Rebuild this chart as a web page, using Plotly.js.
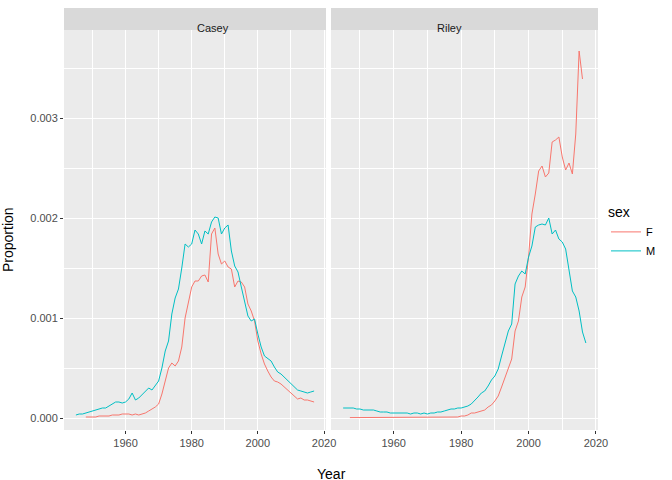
<!DOCTYPE html>
<html>
<head>
<script src="https://cdn.plot.ly/plotly-3.0.1.min.js"></script>
<style>body{margin:0}#plot{width:672px;height:480px}</style>
</head>
<body>
<div id="plot"></div>
<script>
// proportions, one value per year
var caseyMStart = 1945;
var caseyM = [.00003,.00004,.00004,.00005,.00006,.00007,.00008,.00009,.0001,.0001,.00012,.00014,.00016,.00016,.00015,
  .00016,.00019,.00025,.00018,.0002,.00023,.00026,.0003,.00028,.00032,.00037,.0005,.00067,.00077,.00104,.0012,.00129,
  .0015,.00174,.00171,.00174,.00188,.00184,.00174,.00187,.00184,.00196,.00201,.002,.00184,.0019,.00193,.00167,.00152,
  .00146,.00131,.00117,.00102,.00097,.00099,.00084,.00071,.00062,.00059,.00057,.00051,.00046,.00044,.00041,.00037,
  .00034,.00031,.00028,.00027,.00026,.00025,.00026,.00027];
var caseyFStart = 1948;
var caseyF = [.00001,.00001,.00001,.00001,.00002,.00002,.00002,.00002,.00003,.00003,.00003,.00004,.00004,.00004,.00003,
  .00004,.00003,.00004,.00005,.00007,.00009,.00011,.00014,.00024,.00037,.0005,.00055,.00052,.00057,.00071,.001,.00114,
  .00131,.00137,.00137,.00142,.00143,.00136,.00184,.0019,.00164,.00154,.00157,.00151,.00149,.00131,.00137,.00136,.00131,
  .00114,.00107,.00097,.00077,.00064,.00054,.00047,.00041,.00037,.00036,.00034,.00031,.00027,.00025,.00022,.00019,
  .0002,.00018,.00018,.00017,.00016];
var rileyMStart = 1945;
var rileyM = [.0001,.0001,.0001,.0001,.00009,.00009,.00008,.00008,.00008,.00008,.00007,.00006,.00006,.00006,.00005,
  .00005,.00005,.00005,.00005,.00005,.00004,.00005,.00005,.00004,.00005,.00004,.00005,.00005,.00006,.00006,.00007,
  .00008,.00009,.00009,.0001,.0001,.00011,.00012,.00014,.00017,.00021,.00025,.00027,.00032,.00038,.00042,.00049,.00062,
  .00076,.00087,.00094,.00134,.00142,.00147,.00144,.00161,.00172,.00191,.00193,.00194,.00193,.002,.00184,.00188,.00179,
  .00176,.00169,.00147,.00127,.00121,.00107,.00086,.00075];
var rileyFStart = 1947;
var rileyF = [.000004,.000004,.000004,.000004,.00001,.00001,.00001,.00001,.00001,.00001,.00001,.00001,.00001,.00001,
  .00001,.00001,.00001,.00001,.00001,.00001,.00001,.00001,.00001,.00001,.00001,.00001,.00001,.00001,.00001,.00001,
  .00001,.00001,.00001,.00002,.00002,.00003,.00005,.00005,.00006,.00007,.00008,.00011,.00013,.00017,.00022,.00031,
  .00041,.00051,.00059,.00087,.00097,.00121,.00131,.00161,.00204,.00224,.00247,.00252,.00241,.00245,.00276,.00278,
  .00281,.00261,.00248,.00255,.00244,.00284,.00367,.00339];

var colF = '#F8766D', colM = '#00BFC4';

function years(start, vals) {
  var out = [];
  for (var i = 0; i < vals.length; i++) out.push(start + i);
  return out;
}

function line(start, vals, col, name, xa, show) {
  return {x: years(start, vals), y: vals, type: 'scatter', mode: 'lines', name: name,
    xaxis: xa, yaxis: 'y', line: {color: col, width: 1}, showlegend: show, legendgroup: name};
}

var data = [
  line(caseyFStart, caseyF, colF, 'F', 'x', true),
  line(caseyMStart, caseyM, colM, 'M', 'x', true),
  line(rileyFStart, rileyF, colF, 'F', 'x2', false),
  line(rileyMStart, rileyM, colM, 'M', 'x2', false)
];

var tickFont = {family: 'Liberation Sans, Arial', size: 11, color: '#4d4d4d'};
function xaxis(dom) {
  return {domain: dom, range: [1941.4, 2020.6], tickvals: [1960, 1980, 2000, 2020],
    showgrid: true, gridcolor: 'white', gridwidth: 1.1, zeroline: false,
    minor: {dtick: 10, showgrid: true, gridcolor: 'white', gridwidth: 0.5},
    ticks: 'outside', ticklen: 3, tickcolor: '#333', tickfont: tickFont, anchor: 'y'};
}

var layout = {
  width: 672, height: 480,
  margin: {l: 0, r: 0, t: 0, b: 0},
  paper_bgcolor: 'white', plot_bgcolor: '#EBEBEB',
  font: {family: 'Liberation Sans, Arial', color: '#000'},
  xaxis: xaxis([64/672, 326/672]), xaxis2: xaxis([331/672, 598/672]),
  yaxis: {domain: [50/480, 450/480], range: [-0.00012, 0.00388], tickvals: [0, 0.001, 0.002, 0.003],
    ticktext: ['0.000', '0.001', '0.002', '0.003'], showgrid: true, gridcolor: 'white', gridwidth: 1.1,
    zeroline: false, minor: {dtick: 0.0005, showgrid: true, gridcolor: 'white', gridwidth: 0.5},
    ticks: 'outside', ticklen: 3, tickcolor: '#333', tickfont: tickFont, anchor: 'x'},
  shapes: [
    {type: 'rect', xref: 'paper', yref: 'paper', x0: 331/672, x1: 598/672, y0: 50/480, y1: 450/480,
      fillcolor: '#EBEBEB', line: {width: 0}, layer: 'below'},
    {type: 'rect', xref: 'paper', yref: 'paper', x0: 64/672, x1: 326/672, y0: 450/480, y1: 472/480,
      fillcolor: '#D9D9D9', line: {width: 0}},
    {type: 'rect', xref: 'paper', yref: 'paper', x0: 331/672, x1: 598/672, y0: 450/480, y1: 472/480,
      fillcolor: '#D9D9D9', line: {width: 0}}
  ],
  annotations: [
    {text: 'Casey', xref: 'paper', yref: 'paper', x: 195/672, y: 460/480, showarrow: false,
      font: {size: 11, color: '#1a1a1a'}},
    {text: 'Riley', xref: 'paper', yref: 'paper', x: 464/672, y: 460/480, showarrow: false,
      font: {size: 11, color: '#1a1a1a'}},
    {text: 'Year', xref: 'paper', yref: 'paper', x: 331/672, y: 6/480, xanchor: 'center', yanchor: 'middle',
      showarrow: false, font: {size: 14}},
    {text: 'Proportion', xref: 'paper', yref: 'paper', x: 8/672, y: 240/480, xanchor: 'center',
      yanchor: 'middle', showarrow: false, textangle: -90, font: {size: 14}}
  ],
  legend: {x: 606/672, y: 0.585, xanchor: 'left', yanchor: 'top', bgcolor: 'white',
    title: {text: 'sex', font: {size: 14}}, font: {size: 11}, tracegroupgap: 0}
};

Plotly.newPlot('plot', data, layout, {displayModeBar: false});
</script>
</body>
</html>
